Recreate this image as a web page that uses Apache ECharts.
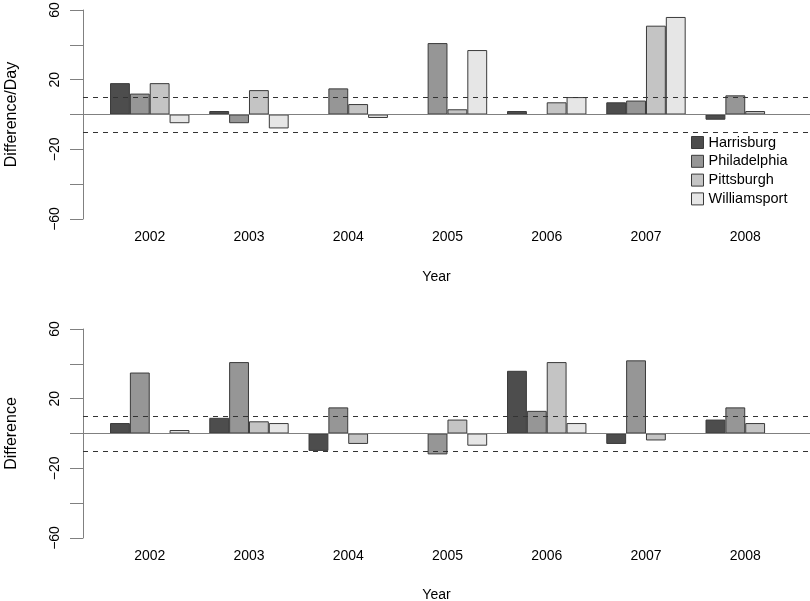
<!DOCTYPE html>
<html>
<head>
<meta charset="utf-8">
<script src="https://cdn.jsdelivr.net/npm/echarts@6/dist/echarts.min.js"></script>
<style>html,body{margin:0;padding:0;background:#fff;}#c{width:810px;height:601px;}</style>
</head>
<body>
<div id="c"></div>
<script>
const years = ['2002','2003','2004','2005','2006','2007','2008'];
const cities = ['Harrisburg','Philadelphia','Pittsburgh','Williamsport'];
const colors = ['#4D4D4D','#969696','#C4C4C4','#E6E6E6'];
const yTickLabels = [60, 20, -20, -60];
const refLines = [10, -10];

// Top panel: Difference/Day
const perDayHarrisburg   = [18, 2, 0, 0, 2, 7, -3];
const perDayPhiladelphia = [12, -5, 15, 41, 0, 8, 11];
const perDayPittsburgh   = [18, 14, 6, 3, 7, 51, 2];
const perDayWilliamsport = [-5, -8, -2, 37, 10, 56, 0];

// Bottom panel: Difference
const diffHarrisburg   = [6, 9, -10, 0, 36, -6, 8];
const diffPhiladelphia = [35, 41, 15, -12, 13, 42, 15];
const diffPittsburgh   = [0, 7, -6, 8, 41, -4, 6];
const diffWilliamsport = [2, 6, 0, -7, 6, 0, 0];

const topData = [perDayHarrisburg, perDayPhiladelphia, perDayPittsburgh, perDayWilliamsport];
const botData = [diffHarrisburg, diffPhiladelphia, diffPittsburgh, diffWilliamsport];

const FONT = "'Liberation Sans', Arial, Helvetica, sans-serif";
const fmt = v => yTickLabels.includes(v) ? String(v).replace('-', '\u2212') : '';

const chart = echarts.init(document.getElementById('c'), null, {renderer: 'canvas'});

function frameY(gi, name) {
  return {
    type: 'value', gridIndex: gi, min: -60, max: 60, interval: 20,
    name: name, nameLocation: 'middle', nameRotate: 90, nameGap: 63,
    nameTextStyle: {fontSize: 16, color: '#000', fontFamily: FONT},
    axisLine: {show: true, lineStyle: {color: '#808080', width: 1}},
    axisTick: {show: true, length: 13, lineStyle: {color: '#808080', width: 1}},
    axisLabel: {show: true, rotate: 90, margin: 21, fontSize: 14, color: '#000', fontFamily: FONT, formatter: fmt, showMinLabel: true, showMaxLabel: true},
    splitLine: {show: false}
  };
}
function barY(gi) {
  return {type: 'value', gridIndex: gi, min: -60, max: 60, interval: 20, show: false};
}
function frameX(gi) {
  return {type: 'value', gridIndex: gi, min: 0, max: 1, show: false};
}
function barX(gi, gap) {
  return {
    type: 'category', gridIndex: gi, data: years, position: 'bottom',
    axisLine: {show: false}, axisTick: {show: false},
    axisLabel: {fontSize: 14, color: '#000', fontFamily: FONT, margin: 11},
    name: 'Year', nameLocation: 'middle', nameGap: gap,
    nameTextStyle: {fontSize: 14, color: '#000', fontFamily: FONT, padding: [0, 22, 0, 0]}
  };
}
function refSeries(xi, yi) {
  const lines = [{yAxis: 0, lineStyle: {type: 'solid', color: '#808080', width: 1}}];
  refLines.forEach(v => lines.push({yAxis: v, lineStyle: {type: [5, 5], color: '#333', width: 1}}));
  return {
    type: 'line', xAxisIndex: xi, yAxisIndex: yi, data: [], z: 10, silent: true,
    markLine: {silent: true, symbol: 'none', label: {show: false}, animation: false, z: 10, data: lines}
  };
}
function barSeries(dataSets, xi, yi) {
  return dataSets.map((d, i) => ({
    name: cities[i], type: 'bar', xAxisIndex: xi, yAxisIndex: yi,
    data: d.map(v => (v === 0 ? null : v)),
    barWidth: 19.85, barGap: '0%',
    itemStyle: {color: colors[i], borderColor: '#3a3a3a', borderWidth: 1},
    animation: false
  }));
}

const G = {outerBoundsMode: 'none', containLabel: false};
const option = {
  backgroundColor: '#fff',
  animation: false,
  textStyle: {fontFamily: FONT},
  grid: [
    Object.assign({left: 83, top: 10, width: 727, height: 209}, G),
    Object.assign({left: 100.1, top: 10, width: 694.75, height: 209}, G),
    Object.assign({left: 83, top: 329, width: 727, height: 209}, G),
    Object.assign({left: 100.1, top: 329, width: 694.75, height: 209}, G)
  ],
  xAxis: [frameX(0), barX(1, 51), frameX(2), barX(3, 50)],
  yAxis: [frameY(0, 'Difference/Day'), barY(1), frameY(2, 'Difference'), barY(3)],
  legend: {
    data: cities, orient: 'vertical', left: 686, top: 130,
    itemWidth: 12, itemHeight: 12, itemGap: 3.8, icon: 'rect',
    textStyle: {fontSize: 14.5, color: '#000', fontFamily: FONT, lineHeight: 14},
    itemStyle: {borderColor: '#3a3a3a', borderWidth: 1},
    selectedMode: false
  },
  series: [
    refSeries(0, 0),
    ...barSeries(topData, 1, 1),
    refSeries(2, 2),
    ...barSeries(botData, 3, 3)
  ]
};
chart.setOption(option);
</script>
</body>
</html>
